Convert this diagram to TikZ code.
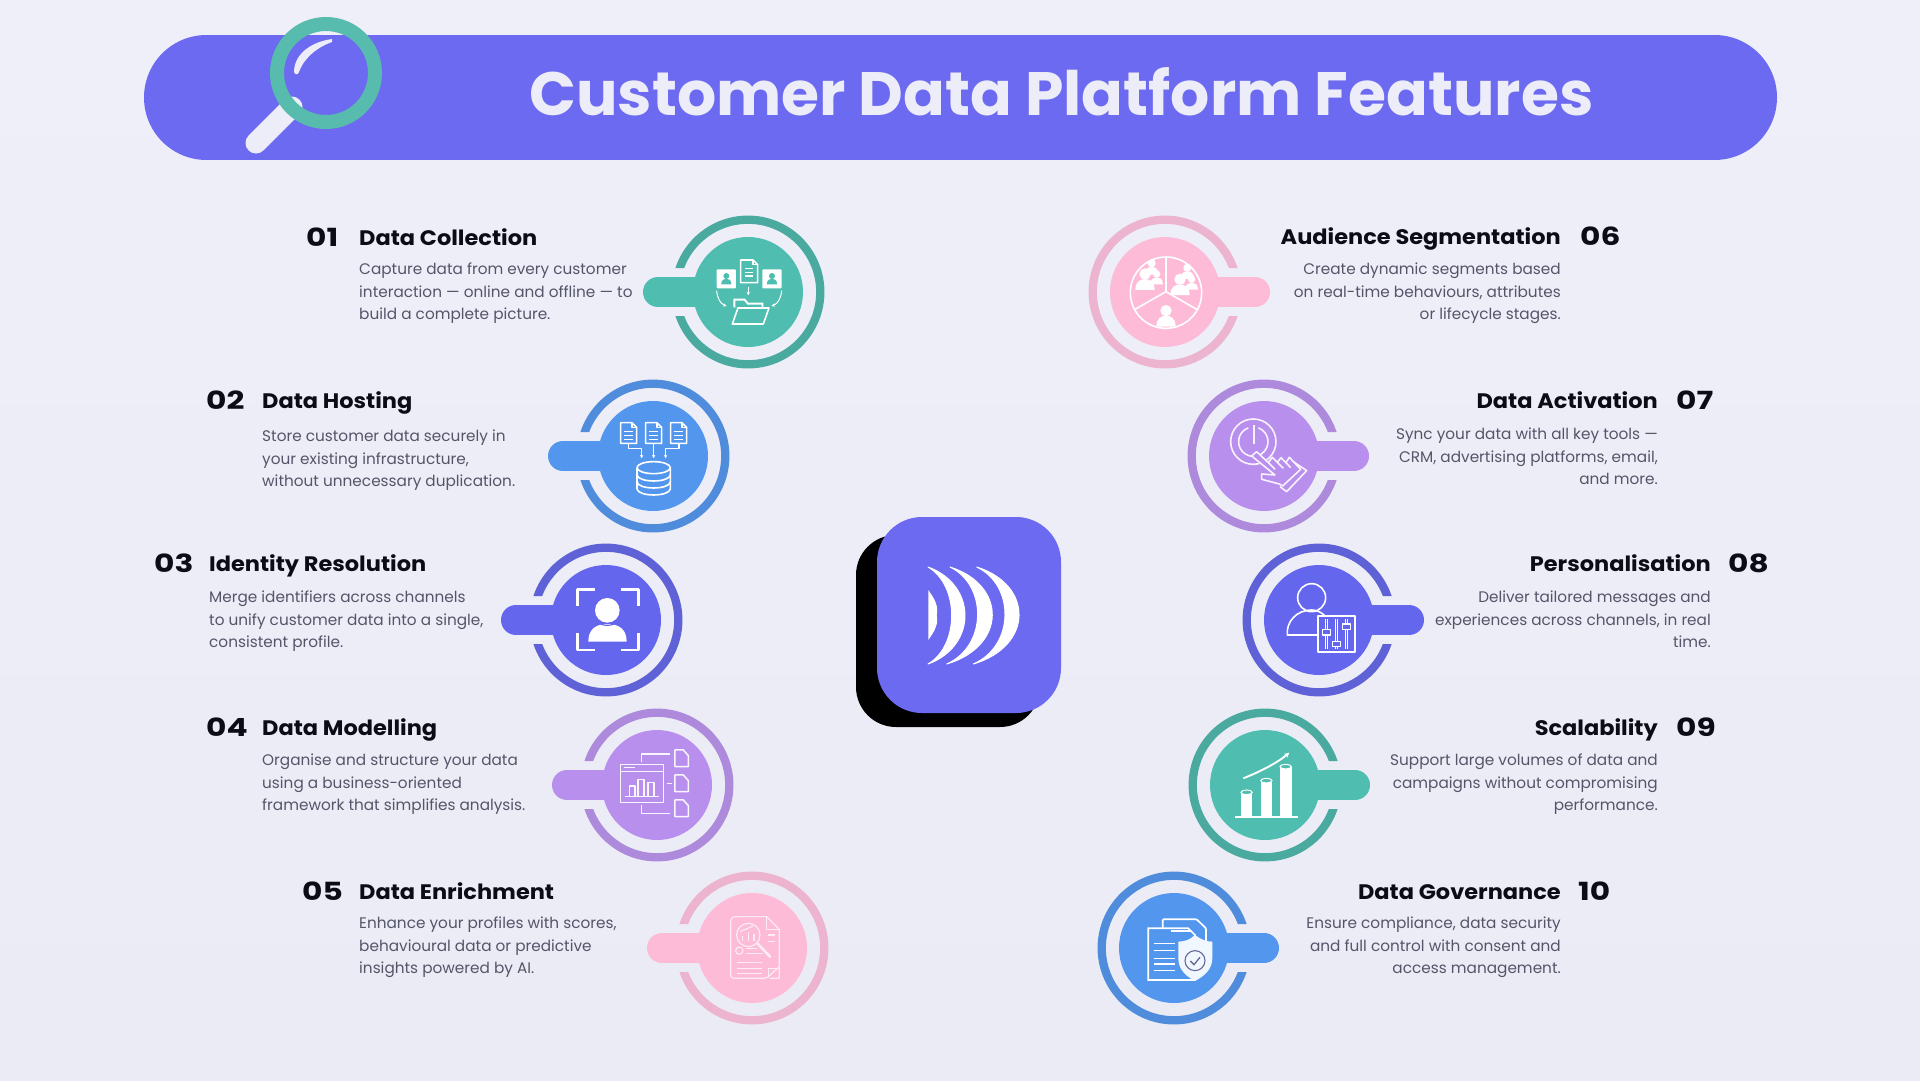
\documentclass[tikz,border=0pt]{standalone}
\usepackage{fontspec}
\setmainfont{Poppins}
\usetikzlibrary{arrows.meta}
\definecolor{bgtop}{HTML}{EEEFF9}
\definecolor{bgbot}{HTML}{EBEBF5}
\definecolor{banner}{HTML}{6C6AF0}
\definecolor{lens}{HTML}{57BBAE}
\definecolor{offw}{HTML}{ECEDF8}
\definecolor{ink}{HTML}{0C0C16}
\definecolor{bodyc}{HTML}{55556A}
\definecolor{tealR}{HTML}{4BAA9F}\definecolor{tealF}{HTML}{4FBDB0}
\definecolor{blueR}{HTML}{4F8CDB}\definecolor{blueF}{HTML}{5296EE}
\definecolor{indiR}{HTML}{5E62D6}\definecolor{indiF}{HTML}{6466EE}
\definecolor{purpR}{HTML}{AE8ADD}\definecolor{purpF}{HTML}{B98FEE}
\definecolor{pinkR}{HTML}{EDB4D0}\definecolor{pinkF}{HTML}{FDBBD8}
\tikzset{
 zm/.style 2 args={shift={(#1,#2)},x=0.3333pt,y=-0.3333pt},
 numtxt/.style={inner sep=0,text=ink,font=\fontsize{25}{25}\selectfont\bfseries\addfontfeature{FakeStretch=1.25}},
 headtxt/.style={inner sep=0,text=ink,font=\fontsize{21}{21}\selectfont\bfseries\addfontfeature{FakeStretch=1.07}},
 bodytxt/.style={inner sep=0,text=bodyc,font=\fontsize{15.3}{20}\selectfont},
 icw/.style={draw=white,line width=1.6pt,line join=round},
 arw/.style={-{Stealth[length=3.5pt,width=3.5pt]}},
 cresc/.style={fill=white,draw=white,line width=1pt,line join=round}
}
\newcommand\badge[5]{%
 \begin{scope}[shift={(#1,#2)},xscale=#3]
  \begin{scope}
   \clip (-90,-90) -- (90,-90) -- (90,-24) -- (0,-24) -- (0,24) -- (90,24) -- (90,90) -- (-90,90) -- cycle;
   \draw[line width=8.3pt,draw=#4] (0,0) circle (72.3);
  \end{scope}
  \fill[#5] (0,0) circle (55);
  \draw[line width=30pt,line cap=round,draw=#5] (30,0) -- (90,0);
 \end{scope}}
\newcommand\rowL[9]{%
 \node[numtxt,anchor=base west] (n#1) at (#2,#4+1) {#5};
 \node[headtxt,anchor=base west] (h#1) at (#3,#4) {#6};
 \node[bodytxt,anchor=base west] (a#1) at (#3,#7) {#8};
 \bodyrest{#1}{#3}{#7}{#9}{west}}
\newcommand\rowR[9]{%
 \node[numtxt,anchor=base west] (n#1) at (#2,#4+1) {#5};
 \node[headtxt,anchor=base east] (h#1) at (#3,#4) {#6};
 \node[bodytxt,anchor=base east] (a#1) at (#3,#7) {#8};
 \bodyrest{#1}{#3}{#7}{#9}{east}}
\newcommand\bodyrest[5]{\bodysplit{#1}{#2}{#3}{#5}#4\relax}
\def\bodysplit#1#2#3#4#5|#6\relax{%
 \pgfmathsetmacro\yb{#3+23}\pgfmathsetmacro\yc{#3+45.9}%
 \node[bodytxt,anchor=base #4] (b#1) at (#2,\yb) {#5};
 \node[bodytxt,anchor=base #4] (c#1) at (#2,\yc) {#6};}
\newcommand\doc[5][]{%
 \draw[icw,#1] (#2,#3) -- (#4-14,#3) -- (#4,#3+14) -- (#4,#5) -- (#2,#5) -- cycle;
 \draw[icw,#1] (#4-14,#3) -- (#4-14,#3+14) -- (#4,#3+14);}
\newcommand\persn[4]{%
 \begin{scope}[shift={(#1,#2)},scale=#3]
  \fill[#4] (0,0) circle (1);
  \fill[#4] (-1.7,2.8) .. controls (-1.7,1.3) and (-0.8,0.9) .. (0,0.9) .. controls (0.8,0.9) and (1.7,1.3) .. (1.7,2.8) -- cycle;
 \end{scope}}
\begin{document}
\begin{tikzpicture}[x=1pt,y=-1pt]
\useasboundingbox (0,0) rectangle (1920,1080);
\shade[top color=bgtop,bottom color=bgbot] (0,0) rectangle (1920,1080);
% banner
\draw[banner,line width=125pt,line cap=round] (206.5,97.5) -- (1714.5,97.5);
\draw[line width=21pt,draw=offw,line cap=round] (256,143) -- (292,107);
\draw[line width=14pt,draw=lens] (326,73) circle (49);
\fill[offw] (332,39) .. controls (310,42) and (294,55) .. (294,72) .. controls (295,75) and (298,75) .. (299,72) .. controls (303,60) and (315,48) .. (332,42) -- cycle;
\node[inner sep=0,text=offw,anchor=base west] (title) at (529,115) {\resizebox{1064pt}{48pt}{\bfseries Customer Data Platform Features}};
% logo
\fill[black] (856,575) arc (180:270:40) -- (1000,535) arc (270:360:40) -- (1040,687) arc (0:90:40) -- (896,727) arc (90:180:40) -- cycle;
\fill[banner] (877,562) arc (180:270:45) -- (1016,517) arc (270:360:45) -- (1061,668) arc (0:90:45) -- (922,713) arc (90:180:45) -- cycle;
\fill[white] (928.3,590) .. controls (934,598) and (939,606) .. (936.7,615) .. controls (939,624) and (934,632) .. (928.3,640) -- cycle;
\path[cresc] (928,567) .. controls (977.3,585) and (977.3,646) .. (928,664) .. controls (959.6,646) and (959.6,585) .. (928,567) -- cycle;
\path[cresc] (950,567) .. controls (1006.9,585) and (1006.9,646) .. (946.7,664) .. controls (987.4,646) and (987.4,585) .. (950,567) -- cycle;
\path[cresc] (976.7,567) .. controls (1033.7,585) and (1033.7,646) .. (973.3,664) .. controls (1015,646) and (1015,585) .. (976.7,567) -- cycle;
% badges
\badge{748}{292}{-1}{tealR}{tealF}
\badge{653}{456}{-1}{blueR}{blueF}
\badge{606}{620}{-1}{indiR}{indiF}
\badge{657}{785}{-1}{purpR}{purpF}
\badge{752}{948}{-1}{pinkR}{pinkF}
\badge{1165}{292}{1}{pinkR}{pinkF}
\badge{1264}{456}{1}{purpR}{purpF}
\badge{1319}{620}{1}{indiR}{indiF}
\badge{1265}{785}{1}{tealR}{tealF}
\badge{1174}{948}{1}{blueR}{blueF}
% icon 1
\begin{scope}[zm={500}{200}]
 \fill[white,rounded corners=1pt] (650,208) rectangle (708,265);
 \fill[white,rounded corners=1pt] (787,208) rectangle (845,265);
 \persn{679}{228}{9}{tealF}
 \persn{816}{228}{9}{tealF}
 \doc{722}{180}{773}{248}
 \draw[icw,line width=1pt] (735,205) -- (760,205) (735,216) -- (760,216) (735,228) -- (760,228);
 \draw[icw,line width=1pt,arw] (745,262) -- (745,286);
 \draw[icw,line width=1pt,arw] (650,272) .. controls (652,295) and (662,312) .. (680,318);
 \draw[icw,line width=1pt,arw] (845,272) .. controls (843,295) and (833,312) .. (814,318);
 \fill[white] (700,322) -- (700,296) -- (735,296) -- (745,308) -- (790,308) -- (790,322) -- cycle;
 \fill[tealF] (706,322) -- (706,302) -- (732,302) -- (742,314) -- (785,314) -- (785,322) -- cycle;
 \draw[icw,fill=tealF] (697,372) -- (714,324) -- (807,324) -- (790,372) -- cycle;
 % icon 2
 \doc{362}{668}{410}{730}\doc{437}{668}{485}{730}\doc{512}{668}{560}{730}
 \foreach \x in {362,437,512}{
  \draw[icw,line width=1pt] (\x+10,695) -- (\x+38,695) (\x+10,707) -- (\x+38,707) (\x+10,719) -- (\x+38,719);}
 \draw[icw,line width=1.1pt,arw] (385,730) -- (385,745) -- (425,745) -- (425,775);
 \draw[icw,line width=1.1pt,arw] (461,730) -- (461,775);
 \draw[icw,line width=1.1pt,arw] (537,730) -- (537,745) -- (497,745) -- (497,775);
 \draw[icw] (461,803) ellipse (50 and 18);
 \draw[icw] (411,803) -- (411,867) .. controls (415,891) and (507,891) .. (511,867) -- (511,803);
 \draw[icw] (411,825) .. controls (415,849) and (507,849) .. (511,825);
 \draw[icw] (411,846) .. controls (415,870) and (507,870) .. (511,846);
\end{scope}
% icons 3 4 5
\begin{scope}[zm={500}{530}]
 \draw[icw,line width=2.4pt] (285,178) -- (232,178) -- (232,228);
 \draw[icw,line width=2.4pt] (362,178) -- (416,178) -- (416,228);
 \draw[icw,line width=2.4pt] (232,310) -- (232,360) -- (285,360);
 \draw[icw,line width=2.4pt] (416,310) -- (416,360) -- (362,360);
 \fill[white] (322,241) circle (37);
 \fill[white] (265,335) -- (380,335) .. controls (380,300) and (360,282) .. (322,282) .. controls (285,282) and (265,300) .. (265,335) -- cycle;
 \draw[indiF,line width=1.2pt] (290,274) .. controls (305,290) and (338,290) .. (354,274);
 % icon 4
 \begin{scope}[every path/.style={draw=white!92!purpF,line width=1.5pt,line join=round}]
  \draw (362,703) rectangle (490,818);
  \draw (362,725) -- (490,725);
  \draw[line width=1pt] (372,714) -- (405,714);
  \draw (376,800) -- (478,800);
  \draw (388,800) -- (388,768) -- (405,768) -- (405,800);
  \draw (414,800) -- (414,748) -- (432,748) -- (432,800);
  \draw (444,800) -- (444,758) -- (462,758) -- (462,800);
  \draw (525,660) -- (550,660) -- (565,677) -- (565,710) -- (525,710) -- cycle;
  \draw (525,735) -- (550,735) -- (565,752) -- (565,785) -- (525,785) -- cycle;
  \draw (525,810) -- (550,810) -- (565,827) -- (565,860) -- (525,860) -- cycle;
  \draw (425,695) -- (425,672) -- (510,672);
  \draw (500,760) -- (515,760);
  \draw (425,825) -- (425,850) -- (510,850);
 \end{scope}
 % icon 5
 \begin{scope}[every path/.style={draw=white!72!pinkF,line width=1.2pt,line join=round}]
  \draw[rounded corners=3pt] (692,1175) -- (692,1345) -- (800,1345) -- (838,1310);
  \draw (692,1175) .. controls (692,1162) and (700,1160) .. (712,1160) -- (800,1160) -- (838,1198) -- (838,1345) -- (810,1345);
  \draw (800,1160) -- (800,1198) -- (838,1198);
  \draw (805,1345) -- (805,1315) -- (838,1315);
  \draw (745,1215) circle (35);
  \draw[line width=2.6pt] (772,1240) -- (812,1282);
  \draw (718,1262) circle (11);
  \draw (738,1255) -- (770,1255) (738,1270) -- (790,1270);
  \draw (712,1297) -- (785,1297) (712,1315) -- (785,1315) (712,1330) -- (785,1330);
  \draw (728,1232) -- (728,1218) (745,1232) -- (745,1205) (762,1232) -- (762,1212);
  \draw (720,1205) -- (760,1188);
  \draw (805,1215) -- (825,1215) (805,1235) -- (825,1235);
 \end{scope}
\end{scope}
% icons 6 7
\begin{scope}[zm={1080}{200}]
 \draw[icw] (258,278) circle (107);
 \draw[icw] (258,172) -- (258,275) -- (165,328) (258,275) -- (350,328);
 \persn{215}{190}{12}{white}\persn{230}{222}{11}{white}
 \persn{195}{222}{17}{white}
 \persn{322}{203}{12}{white}\persn{335}{238}{11}{white}
 \persn{300}{238}{17}{white}
 \begin{scope}
  \clip (258,278) circle (104);
  \persn{258}{332}{17}{white}
 \end{scope}
 % icon 7
 \begin{scope}[every path/.style={draw=white!88!purpF,line width=1.6pt,line join=round}]
  \draw (520,725) circle (68);
  \draw (535,683.7) arc (290:610:44);
  \draw[line width=1.9pt] (522,675) -- (522,732);
  \fill[purpF] (515,768) -- (530,755) -- (565,788) -- (577,772) -- (592,787) -- (603,773) -- (618,788) -- (628,772) -- (672,815) -- (615,870) -- (598,852) -- (545,838) -- (545,822) -- (585,825) -- cycle;
  \draw (515,768) -- (530,755) -- (565,788) -- (577,772) -- (592,787) -- (603,773) -- (618,788) -- (628,772) -- (662,808) -- (608,858) -- (598,852) -- (545,838) -- (545,822) -- (585,825) -- cycle;
  \draw (565,788) -- (585,808) (592,787) -- (610,805) (618,788) -- (632,803);
  \draw (640,785) -- (680,812) -- (620,875) -- (600,860);
 \end{scope}
\end{scope}
% icons 8 9 10
\begin{scope}[zm={1080}{530}]
 \draw[icw] (695,203) circle (42);
 \draw[icw] (713,315) -- (622,315) .. controls (618,275) and (650,240) .. (695,240) .. controls (710,240) and (725,247) .. (735,258);
 \draw[icw,fill=indiF,line width=1.8pt] (715,258) rectangle (825,365);
 \foreach \x/\k in {740/307,770/342,800/290}{
  \draw[icw,line width=3.4pt] (\x,268) -- (\x,357);
  \draw[draw=indiF,line width=1.2pt] (\x,268) -- (\x,357);
  \draw[icw,line width=1.1pt,fill=indiF] (\x-12,\k-8) rectangle (\x+12,\k+8);}
 % icon 9
 \fill[white] (483,787) rectangle (517,862);
 \fill[white] (543,752) rectangle (575,862);
 \fill[white] (600,710) rectangle (635,862);
 \foreach \x/\y in {500/787,559/752,617/710}{
  \draw[white,line width=1pt,fill=tealF] (\x,\y) ellipse (17 and 7);}
 \fill[white] (465,859) rectangle (655,864);
 \draw[white,line width=1.9pt,-{Stealth[length=5pt,width=5pt]}] (490,745) .. controls (540,725) and (590,700) .. (628,668);
 % icon 10
 \draw[white,line width=1.7pt,fill=blueF,rounded corners=1pt] (248,1195) -- (248,1168) -- (350,1168) -- (378,1195) -- (378,1270);
 \draw[white,line width=1.7pt,fill=blueF] (205,1195) -- (325,1195) -- (345,1215) -- (345,1350) -- (205,1350) -- cycle;
 \draw[white,line width=1.5pt] (272,1203) -- (332,1203) (222,1240) -- (285,1240) (222,1262) -- (285,1262) (222,1285) -- (285,1285) (222,1302) -- (285,1302) (222,1322) -- (285,1322);
 \fill[white!92!blueF] (345,1215) .. controls (365,1230) and (380,1235) .. (397,1235) -- (397,1285) .. controls (397,1320) and (370,1340) .. (345,1353) .. controls (320,1340) and (295,1320) .. (295,1285) -- (295,1235) .. controls (312,1235) and (330,1230) .. (345,1215) -- cycle;
 \draw[draw=blue!20!gray,line width=1.1pt] (345,1292) circle (30);
 \draw[draw=blue!20!gray,line width=1.3pt] (331,1293) -- (342,1304) -- (360,1282);
\end{scope}
% texts
\rowL{1}{306}{359}{245}{01}{Data Collection}{274}{Capture data from every customer}{interaction — online and offline — to|build a complete picture.\relax}
\rowL{2}{206}{262}{408}{02}{Data Hosting}{441}{Store customer data securely in}{your existing infrastructure,|without unnecessary duplication.\relax}
\rowL{3}{154}{209}{571}{03}{Identity Resolution}{602}{Merge identifiers across channels}{to unify customer data into a single,|consistent profile.\relax}
\rowL{4}{206}{262}{735}{04}{Data Modelling}{765}{Organise and structure your data}{using a business-oriented|framework that simplifies analysis.\relax}
\rowL{5}{302}{359}{899}{05}{Data Enrichment}{928}{Enhance your profiles with scores,}{behavioural data or predictive|insights powered by AI.\relax}
\rowR{6}{1580}{1561}{244}{06}{Audience Segmentation}{274}{Create dynamic segments based}{on real-time behaviours, attributes|or lifecycle stages.\relax}
\rowR{7}{1676}{1658}{408}{07}{Data Activation}{439}{Sync your data with all key tools —}{CRM, advertising platforms, email,|and more.\relax}
\rowR{8}{1728}{1711}{571}{08}{Personalisation}{602}{Deliver tailored messages and}{experiences across channels, in real|time.\relax}
\rowR{9}{1676}{1658}{735}{09}{Scalability}{765}{Support large volumes of data and}{campaigns without compromising|performance.\relax}
\rowR{10}{1578}{1561}{899}{10}{Data Governance}{928}{Ensure compliance, data security}{and full control with consent and|access management.\relax}
\end{tikzpicture}
\end{document}
